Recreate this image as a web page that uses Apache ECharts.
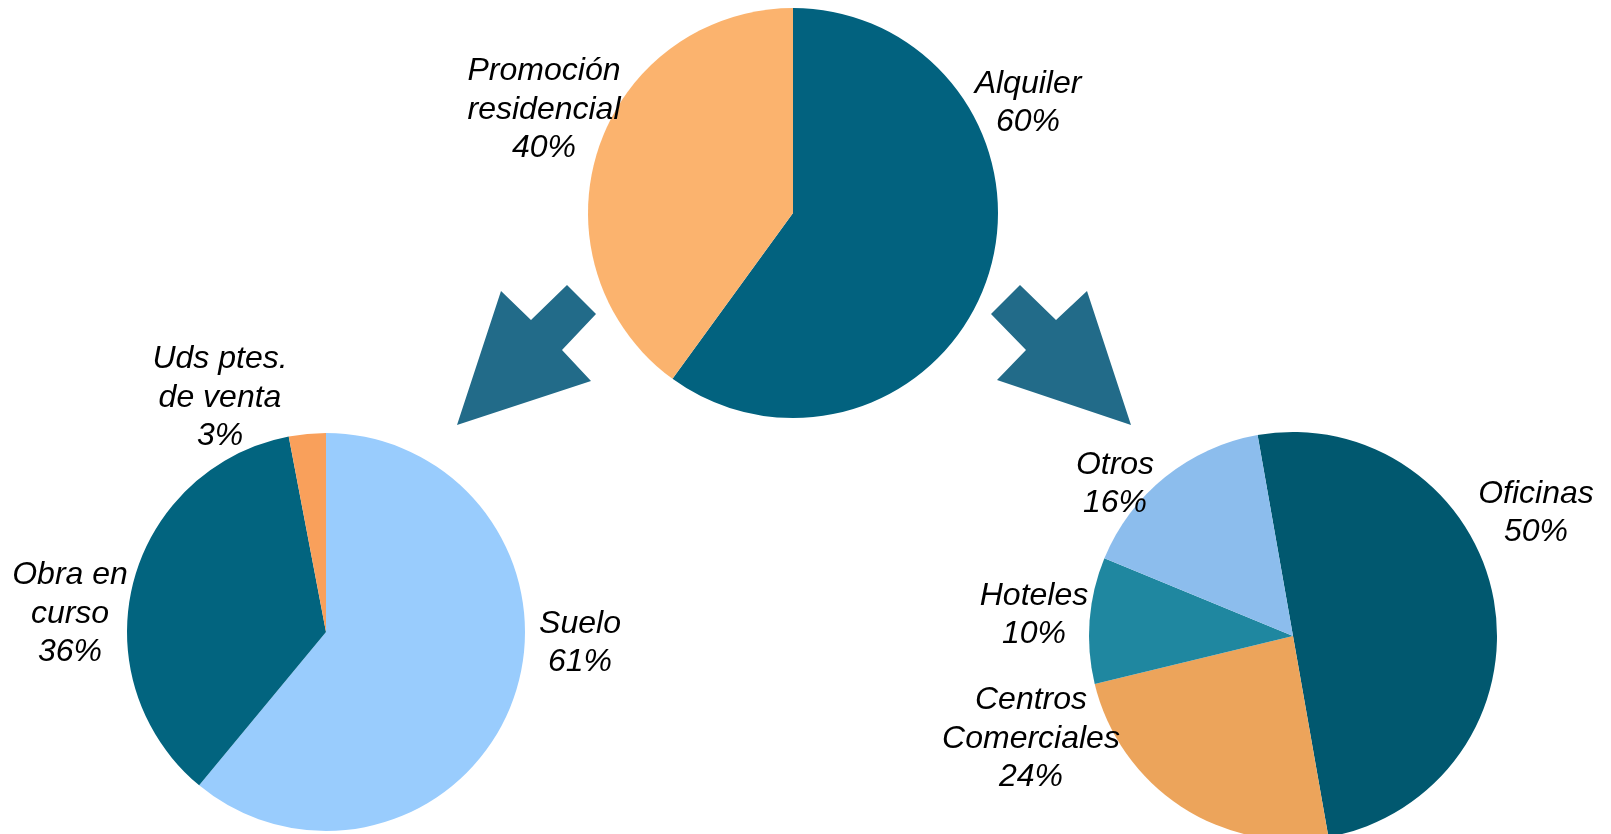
<!DOCTYPE html>
<html>
<head>
<meta charset="utf-8">
<title>Cartera por tipo de activo</title>
<script src="https://cdn.jsdelivr.net/npm/echarts@6/dist/echarts.min.js"></script>
<style>
  html, body { margin: 0; padding: 0; background: #ffffff; }
  #chart { width: 1611px; height: 834px; }
</style>
</head>
<body>
<div id="chart"></div>
<script>
// Total portfolio split
const mainCategories = ['Alquiler', 'Promoción\nresidencial'];
const mainValues = [60, 40];

// Residential development breakdown
const promoCategories = ['Suelo', 'Obra en\ncurso', 'Uds ptes.\nde venta'];
const promoValues = [61, 36, 3];

// Rental breakdown
const rentCategories = ['Oficinas', 'Centros\nComerciales', 'Hoteles', 'Otros'];
const rentValues = [50, 24, 10, 16];

// Slice colours
const mainColors = ['#02627f', '#fbb36e'];
const promoColors = ['#99ccfd', '#02647f', '#f9a05b'];
const rentColors = ['#01586f', '#eca45b', '#1f87a0', '#8cbded'];

// Label anchor points (block centre) for each pie
const mainLabelPos = [[1028, 103], [544, 110]];
const promoLabelPos = [[580, 643], [70, 614], [220, 398]];
const rentLabelPos = [[1536, 513], [1031, 739], [1034, 615], [1115, 484]];

function toData(names, values, colors) {
  return names.map((n, i) => ({ name: n, value: values[i], itemStyle: { color: colors[i] } }));
}

function pieSeries(names, values, colors, center, radius, startAngle, labelPos) {
  return {
    type: 'pie',
    center: center,
    radius: radius,
    startAngle: startAngle,
    clockwise: true,
    avoidLabelOverlap: false,
    silent: true,
    itemStyle: { borderWidth: 0 },
    label: {
      show: true,
      position: 'outside',
      formatter: p => p.name + '\n' + p.value + '%',
      fontFamily: '"Liberation Sans", Arial, sans-serif',
      fontStyle: 'italic',
      fontSize: 32,
      lineHeight: 38.5,
      color: '#000000',
      align: 'center'
    },
    labelLine: { show: false },
    labelLayout: params => ({
      x: labelPos[params.dataIndex][0],
      y: labelPos[params.dataIndex][1],
      align: 'center',
      verticalAlign: 'middle'
    }),
    data: toData(names, values, colors)
  };
}

const arrowColor = '#226b89';

const chart = echarts.init(document.getElementById('chart'), null, { renderer: 'canvas' });
chart.setOption({
  animation: false,
  backgroundColor: '#ffffff',
  graphic: [
    {
      type: 'polygon',
      shape: { points: [[567, 285], [596, 314], [562, 350], [591, 381], [457, 425], [501, 291], [531, 320]] },
      style: { fill: arrowColor },
      z: 0
    },
    {
      type: 'polygon',
      shape: { points: [[1020, 285], [991, 314], [1026, 350], [997, 380], [1131, 425], [1087, 291], [1056, 320]] },
      style: { fill: arrowColor },
      z: 0
    }
  ],
  series: [
    pieSeries(mainCategories, mainValues, mainColors, [793, 213], 205, 90, mainLabelPos),
    pieSeries(promoCategories, promoValues, promoColors, [326, 632], 199, 90, promoLabelPos),
    pieSeries(rentCategories, rentValues, rentColors, [1293, 636], 204, 100, rentLabelPos)
  ]
});
</script>
</body>
</html>
